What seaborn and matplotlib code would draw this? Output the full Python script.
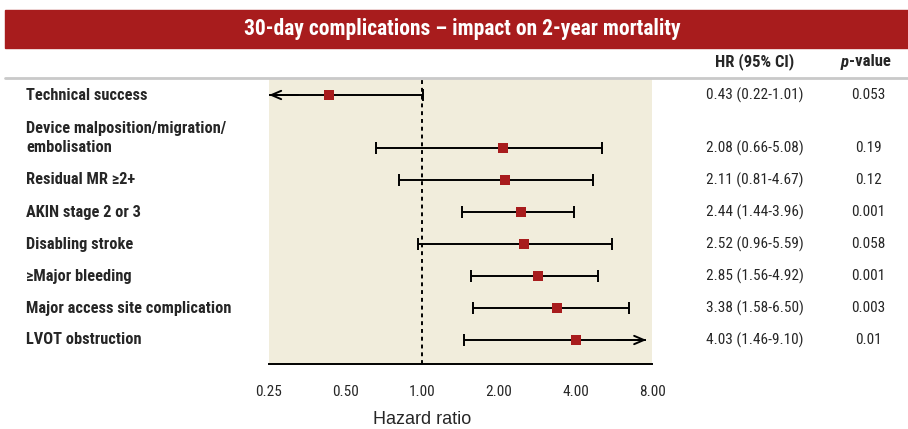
import numpy as np
import pandas as pd
import matplotlib
matplotlib.use("Agg")
import matplotlib.pyplot as plt
from matplotlib import font_manager
import seaborn as sns
from matplotlib.patches import Rectangle

# ---- data -------------------------------------------------------------
outcomes = [
    "Technical success",
    "Device malposition/migration/\nembolisation",
    "Residual MR \u22652+",
    "AKIN stage 2 or 3",
    "Disabling stroke",
    "\u2265Major bleeding",
    "Major access site complication",
    "LVOT obstruction",
]
hr = [0.43, 2.08, 2.11, 2.44, 2.52, 2.85, 3.38, 4.03]
ci_low = [0.22, 0.66, 0.81, 1.44, 0.96, 1.56, 1.58, 1.46]
ci_high = [1.01, 5.08, 4.67, 3.96, 5.59, 4.92, 6.50, 9.10]
p_values = ["0.053", "0.19", "0.12", "0.001", "0.058", "0.001", "0.003", "0.01"]
tick_values = [0.25, 0.5, 1, 2, 4, 8]
tick_labels = ["0.25", "0.50", "1.00", "2.00", "4.00", "8.00"]
title = "30-day complications \u2013 impact on 2-year mortality"

# ---- style ------------------------------------------------------------
sns.set_style("white")

# prefer a narrow face if one is installed
available = {f.name for f in font_manager.fontManager.ttflist}
narrow = [n for n in ["Liberation Sans Narrow", "DejaVu Sans Condensed",
                      "Roboto Condensed", "Open Sans Condensed"] if n in available]
NARROW = narrow + ["DejaVu Sans"]
plt.rcParams["font.family"] = NARROW

RED = "#a81c1d"
BEIGE = "#f1eddc"

W, H = 908, 429
fig = plt.figure(figsize=(W / 100, H / 100), dpi=100)


def fx(px):
    return px / W


def fy(py):
    return 1 - py / H


# row positions: the first row stands apart from the rest
row_pos = np.array([0.0] + [53 / 32 + k for k in range(len(outcomes) - 1)])

df = pd.DataFrame({"outcome": outcomes, "hr": hr, "lo": ci_low, "hi": ci_high,
                   "pos": row_pos})

x_min, x_max = 0.25, 8.0
arrow_lo, arrow_hi = 0.25, 7.6

ax_left, ax_right, ax_top, ax_bottom = 269, 652, 79, 364
ax = fig.add_axes([fx(ax_left), fy(ax_bottom), fx(ax_right) - fx(ax_left),
                   fy(ax_top) - fy(ax_bottom)])
ax.set_facecolor(BEIGE)
ax.set_xscale("log", base=2)
ax.set_xlim(x_min, x_max)
ax.set_ylim(row_pos[-1] + 0.75, -0.5)

# reference line at HR = 1
ax.axvline(1.0, color="black", ls=(0, (2, 2)), lw=1.4, zorder=1)

cap = 0.2
head = dict(arrowstyle="->,head_length=0.7,head_width=0.3",
            color="black", lw=1.4, shrinkA=0, shrinkB=0)
for _, r in df.iterrows():
    lo_clip = r.lo < x_min
    hi_clip = r.hi > x_max
    lo = arrow_lo if lo_clip else r.lo
    hi = arrow_hi if hi_clip else r.hi
    ax.hlines(r.pos, lo, hi, color="black", lw=1.4, zorder=2)
    if lo_clip:
        ax.annotate("", xy=(lo, r.pos), xytext=(lo * 1.3, r.pos), arrowprops=head)
    else:
        ax.vlines(lo, r.pos - cap, r.pos + cap, color="black", lw=1.4, zorder=2)
    if hi_clip:
        ax.annotate("", xy=(hi, r.pos), xytext=(hi / 1.3, r.pos), arrowprops=head)
    else:
        ax.vlines(hi, r.pos - cap, r.pos + cap, color="black", lw=1.4, zorder=2)

sns.scatterplot(data=df, x="hr", y="pos", marker="s", s=55, color=RED,
                edgecolor=RED, linewidth=0, zorder=3, ax=ax, legend=False)

ax.set_xticks(tick_values)
ax.set_xticklabels(tick_labels, fontsize=11)
ax.minorticks_off()
ax.set_yticks([])
ax.set_ylabel("")
ax.tick_params(axis="x", direction="out", length=8, width=1.4, color="black", pad=7)
for side in ["top", "right", "left"]:
    ax.spines[side].set_visible(False)
ax.spines["bottom"].set_color("black")
ax.spines["bottom"].set_linewidth(1.4)

ax.set_xlabel("Hazard ratio", fontsize=13, family=["Liberation Sans", "DejaVu Sans"])
ax.xaxis.set_label_coords((422 - ax_left) / (ax_right - ax_left),
                          -(419 - ax_bottom) / (ax_bottom - ax_top))
ax.xaxis.label.set_va("center")

# ---- title band and header ---------------------------------------------
fig.patches.append(Rectangle((fx(5), fy(48)), 1 - fx(5), fy(10) - fy(48),
                             transform=fig.transFigure, color=RED, zorder=0))
fig.text(fx(462), fy(29), title, color="white", fontsize=15.5, fontweight="bold",
         ha="center", va="center")
fig.add_artist(plt.Line2D([fx(5), 1], [fy(77.5), fy(77.5)], transform=fig.transFigure,
                          color="#c9c9c9", lw=2))

HR_X, P_X = 755, 868
fig.text(fx(HR_X), fy(62), "HR (95% CI)", fontsize=12, fontweight="bold",
         ha="center", va="center")
# "p-value" header: bold italic p followed by bold "-value"
P_JOIN = 849
fig.text(fx(P_JOIN), fy(62), "p", fontsize=12, fontweight="bold", fontstyle="italic",
         ha="right", va="center")
fig.text(fx(P_JOIN), fy(62), "-value", fontsize=12, fontweight="bold",
         ha="left", va="center")

# ---- row labels and numeric columns --------------------------------------
def to_fig(yv):
    return fig.transFigure.inverted().transform(ax.transData.transform((1, yv)))[1]


line_gap = 20 / H
for i, r in df.iterrows():
    yfig = to_fig(r.pos)
    lines = r.outcome.split("\n")
    for k, line in enumerate(reversed(lines)):
        fig.text(fx(26), yfig + k * line_gap, line, fontsize=11.8, fontweight="bold",
                 ha="left", va="center")
    fig.text(fx(HR_X), yfig, f"{r.hr:.2f} ({r.lo:.2f}-{r.hi:.2f})", fontsize=11,
             ha="center", va="center")
    fig.text(fx(P_X), yfig, p_values[i], fontsize=11, ha="center", va="center")

fig.savefig("out.png", dpi=100)
